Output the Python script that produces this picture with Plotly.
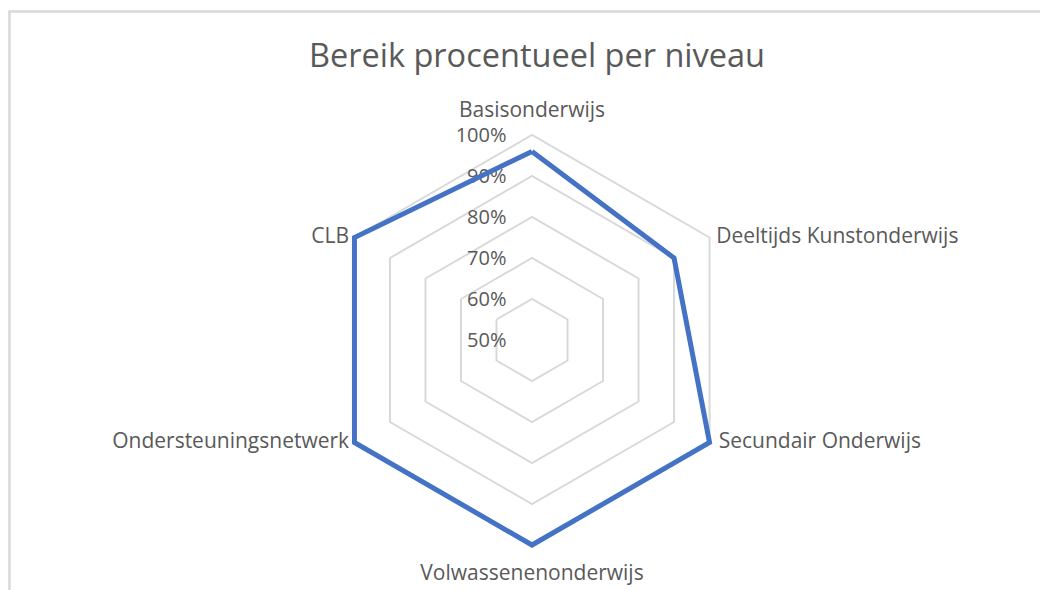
import plotly.graph_objects as go

# categories and values (fraction of reach)
niveaus = ["Basisonderwijs", "Deeltijds Kunstonderwijs", "Secundair Onderwijs",
           "Volwassenenonderwijs", "Ondersteuningsnetwerk", "CLB"]
bereik = [0.96, 0.90, 1.00, 1.00, 1.00, 1.00]
tick_waarden = [0.5, 0.6, 0.7, 0.8, 0.9, 1.0]

W, H = 1040, 590
# radial range goes a bit past 100% so the thick outer line is not clipped
r_min, r_max = 0.5, 1.012
cx, cy = 532, 340
R = 205 * (r_max - r_min) / (1.0 - r_min)

grijs_tekst = "#595959"
grijs_lijn = "#D9D9D9"
blauw = "#4472C4"

fig = go.Figure()

# category labels as text at the outer ring, centred on each corner like Excel does;
# the invisible markers only set the gap between corner and label
fig.add_trace(go.Scatterpolar(
    r=[tick_waarden[-1]] * len(niveaus),
    theta=niveaus,
    mode="markers+text",
    text=niveaus,
    textposition=["top center", "middle right", "middle right",
                  "bottom center", "middle left", "middle left"],
    textfont=dict(size=21, color=grijs_tekst),
    marker=dict(size=[19, 9, 13, 29, 7, 7], color="rgba(0,0,0,0)",
                line=dict(width=0, color="rgba(0,0,0,0)")),
    cliponaxis=False,
    hoverinfo="skip",
    showlegend=False,
))

# close the polygon by repeating the first point
fig.add_trace(go.Scatterpolar(
    r=bereik + bereik[:1],
    theta=niveaus + niveaus[:1],
    mode="lines",
    line=dict(color=blauw, width=5),
    showlegend=False,
))

fig.update_layout(
    width=W, height=H,
    margin=dict(l=0, r=0, t=0, b=0),
    paper_bgcolor="white",
    font=dict(family="Open Sans", color=grijs_tekst),
    title=dict(text="Bereik procentueel per niveau", x=537 / W, xanchor="center",
               y=1 - 56 / H, yanchor="middle",
               font=dict(size=32.5, color=grijs_tekst, family="Open Sans")),
    polar=dict(
        domain=dict(x=[(cx - R) / W, (cx + R) / W], y=[(H - cy - R) / H, (H - cy + R) / H]),
        bgcolor="white",
        gridshape="linear",
        radialaxis=dict(
            range=[r_min, r_max], tickvals=tick_waarden, tickformat=".0%",
            angle=90, tickangle=90, side="counterclockwise",
            showline=False, ticks="outside", ticklen=18, tickcolor="rgba(0,0,0,0)",
            gridcolor=grijs_lijn, gridwidth=1.5,
            tickfont=dict(size=20, color=grijs_tekst), layer="below traces",
        ),
        angularaxis=dict(
            direction="clockwise", rotation=90,
            showgrid=False, showline=False, showticklabels=False, ticks="",
            layer="below traces",
        ),
    ),
    shapes=[dict(type="rect", xref="paper", yref="paper",
                 x0=9.5 / W, x1=1.05, y0=-0.05, y1=1 - 11.5 / H,
                 line=dict(color=grijs_lijn, width=2.5))],
)

# drop the default page margin so the figure sits at the window's top-left corner
fig.write_html("out.html", config={"displayModeBar": False},
               post_script="document.body.style.margin = '0';")
